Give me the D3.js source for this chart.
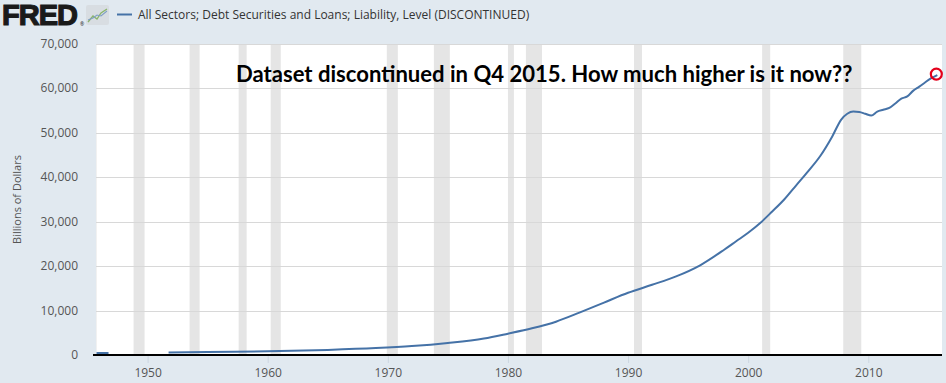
<!DOCTYPE html>
<html>
<head>
<meta charset="utf-8">
<script src="https://cdn.jsdelivr.net/npm/d3@7"></script>
<style>
  body { margin: 0; background: #e1e9f0; }
  svg { display: block; font-family: "Open Sans", sans-serif; }
</style>
</head>
<body>
<div id="chart"></div>
<script>
var dates = ["1945-10-01","1946-04-01","1946-10-01","1947-01-01",
  "1951-10-01","1955-01-01","1960-01-01","1965-01-01","1969-01-01","1972-01-01",
  "1975-01-01","1978-01-01","1980-01-01","1982-01-01","1984-01-01","1986-01-01",
  "1988-01-01","1990-01-01","1992-01-01","1994-01-01","1996-01-01","1998-01-01",
  "1999-01-01","2000-01-01","2001-01-01","2002-01-01","2003-01-01","2004-01-01",
  "2005-01-01","2006-01-01","2007-01-01","2007-10-01","2008-04-01","2008-10-01",
  "2009-04-01","2009-10-01","2010-04-01","2010-10-01","2011-04-01","2011-10-01",
  "2012-04-01","2012-10-01","2013-04-01","2013-10-01","2014-04-01","2014-10-01",
  "2015-04-01","2015-10-01"];
var values = [440, 445, 450, null,
  540, 650, 820, 1150, 1550, 2000,
  2700, 3700, 4800, 6000, 7500, 9600,
  11800, 14000, 15800, 17700, 20200, 23700,
  25600, 27500, 29700, 32300, 35000, 38200,
  41400, 44800, 49200, 53000, 54300, 54800,
  54700, 54300, 53900, 54800, 55200, 55600,
  56600, 57700, 58200, 59500, 60400, 61400,
  62300, 63000];

// NBER recessions shown as grey bands
var recStart = ["1945-02-01","1948-11-01","1953-07-01","1957-08-01","1960-04-01","1969-12-01",
  "1973-11-01","1980-01-01","1981-07-01","1990-07-01","2001-03-01","2007-12-01"];
var recEnd = ["1945-10-01","1949-10-01","1954-05-01","1958-04-01","1961-02-01","1970-11-01",
  "1975-03-01","1980-07-01","1982-11-01","1991-03-01","2001-11-01","2009-06-01"];

var yTicks = [0, 10000, 20000, 30000, 40000, 50000, 60000, 70000];
var xTickYears = [1950, 1960, 1970, 1980, 1990, 2000, 2010];

var seriesTitle = "All Sectors; Debt Securities and Loans; Liability, Level (DISCONTINUED)";
var yLabel = "Billions of Dollars";
var note = "Dataset discontinued in Q4 2015. How much higher is it now??";

var W = 946, H = 383;
var margin = {top: 44, right: 4, bottom: 28, left: 96};
var width = W - margin.left - margin.right,
    height = H - margin.top - margin.bottom;

var parse = d3.timeParse("%Y-%m-%d");
var data = dates.map(function(d, i) { return {date: parse(d), value: values[i]}; });
var recessions = recStart.map(function(d, i) { return {start: parse(d), end: parse(recEnd[i])}; });

var x = d3.scaleTime()
  .domain([parse("1945-09-15"), parse("2016-02-20")])
  .range([0, width]);
var y = d3.scaleLinear().domain([0, 70000]).range([height, 0]);

var svg = d3.select("#chart").append("svg")
  .attr("width", W).attr("height", H);

// header: logo + legend
var logo = svg.append("g").attr("transform", "translate(2,0)");
logo.append("text")
  .attr("x", 0).attr("y", 25)
  .attr("font-family", "Liberation Sans, Arial, sans-serif")
  .attr("font-weight", "bold").attr("font-size", 29)
  .attr("letter-spacing", -1)
  .attr("fill", "#1a1a1a").attr("stroke", "#1a1a1a").attr("stroke-width", 1.2)
  .text("FRED");
logo.append("text")
  .attr("x", 78).attr("y", 26)
  .attr("font-size", 5).attr("fill", "#111").text("®");
var icon = logo.append("g").attr("transform", "translate(84,5)");
icon.append("rect").attr("width", 23).attr("height", 20).attr("rx", 2).attr("fill", "#d8dde2");
icon.append("polyline").attr("points", "2,17 7,11 11,14 15,8 21,4")
  .attr("fill", "none").attr("stroke", "#8ab56a").attr("stroke-width", 1.3);
icon.append("polyline").attr("points", "2,15 7,13 11,10 15,11 21,6")
  .attr("fill", "none").attr("stroke", "#7f9fc4").attr("stroke-width", 1.1);

svg.append("line")
  .attr("x1", 117).attr("x2", 132).attr("y1", 14.5).attr("y2", 14.5)
  .attr("stroke", "#4572a7").attr("stroke-width", 2);
svg.append("text")
  .attr("x", 138).attr("y", 18.5)
  .attr("font-size", 12).attr("fill", "#333")
  .text(seriesTitle);

// y-axis title
svg.append("text")
  .attr("transform", "translate(21," + (margin.top + height / 2) + ") rotate(-90)")
  .attr("text-anchor", "middle")
  .attr("font-size", 11).attr("fill", "#555")
  .text(yLabel);

var g = svg.append("g").attr("transform", "translate(" + margin.left + "," + margin.top + ")");

g.append("rect").attr("width", width).attr("height", height).attr("fill", "#fff");

g.selectAll(".rec").data(recessions).enter().append("rect")
  .attr("class", "rec")
  .attr("x", function(d) { return Math.max(0, x(d.start)); })
  .attr("width", function(d) { return Math.max(0, x(d.end) - Math.max(0, x(d.start))); })
  .attr("y", 0).attr("height", height)
  .attr("fill", "#e5e5e5");

// gridlines + y labels
g.selectAll(".grid").data(yTicks.slice(1)).enter().append("line")
  .attr("class", "grid")
  .attr("x1", 0).attr("x2", width)
  .attr("y1", function(d) { return Math.round(y(d)) + 0.5; })
  .attr("y2", function(d) { return Math.round(y(d)) + 0.5; })
  .attr("stroke", "#d8d8d8").attr("stroke-width", 1);

g.selectAll(".ylab").data(yTicks).enter().append("text")
  .attr("class", "ylab")
  .attr("x", -18).attr("y", function(d) { return y(d) + 4; })
  .attr("text-anchor", "end")
  .attr("font-size", 12).attr("fill", "#555")
  .text(function(d) { return d3.format(",")(d); });

// x axis
var xAxis = d3.axisBottom(x)
  .tickValues(xTickYears.map(function(yr) { return new Date(yr, 0, 1); }))
  .tickFormat(d3.timeFormat("%Y"))
  .tickSize(8).tickSizeOuter(0);
var xg = g.append("g").attr("transform", "translate(0," + height + ")").call(xAxis);
xg.select(".domain").remove();
xg.selectAll(".tick line").attr("stroke", "#ccd6e0");
xg.selectAll(".tick text").attr("font-size", 12).attr("fill", "#555")
  .attr("font-family", "Open Sans, sans-serif").attr("dy", "0.9em");

g.append("line")
  .attr("x1", -3).attr("x2", width)
  .attr("y1", height).attr("y2", height)
  .attr("stroke", "#000").attr("stroke-width", 2);

// series
var line = d3.line()
  .defined(function(d) { return d.value !== null; })
  .curve(d3.curveMonotoneX)
  .x(function(d) { return x(d.date); })
  .y(function(d) { return y(d.value); });

g.append("path").datum(data)
  .attr("fill", "none")
  .attr("stroke", "#4572a7")
  .attr("stroke-width", 2)
  .attr("stroke-linejoin", "round")
  .attr("d", line);

// annotation
var last = data[data.length - 1];
g.append("circle")
  .attr("cx", x(last.date) - 1).attr("cy", y(last.value) - 1)
  .attr("r", 5.5)
  .attr("fill", "none").attr("stroke", "#e3001b").attr("stroke-width", 2.2);

var noteText = svg.append("text")
  .attr("x", 236).attr("y", 82)
  .attr("font-family", "Lato, sans-serif")
  .attr("font-weight", "bold")
  .attr("font-size", 24)
  .attr("fill", "#000")
  .text(note);
var len = noteText.node().getComputedTextLength();
noteText.attr("font-size", 24 * 617 / len);
</script>
</body>
</html>
